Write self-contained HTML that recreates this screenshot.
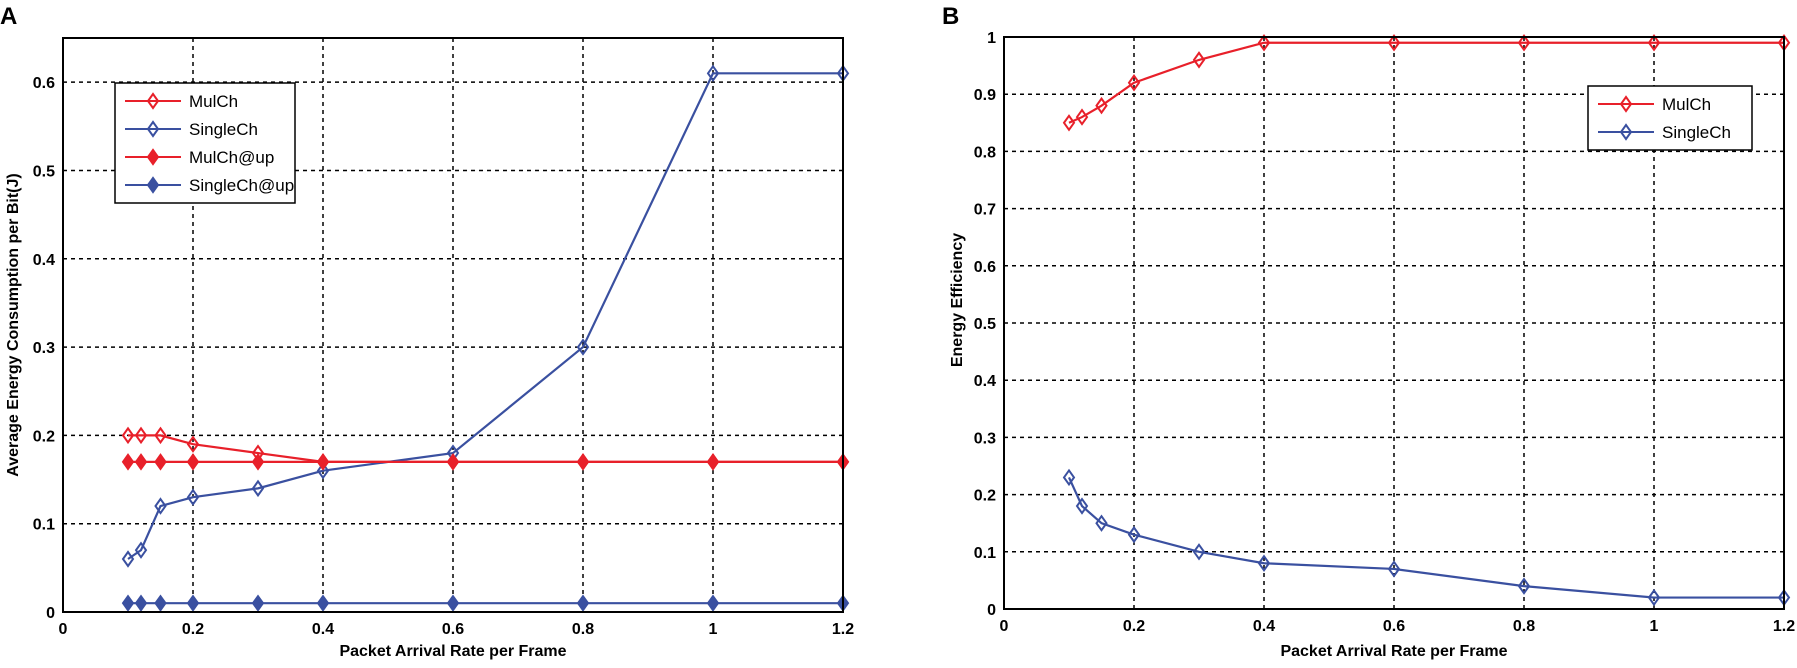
<!DOCTYPE html>
<html><head><meta charset="utf-8"><style>
body{margin:0;background:#fff;width:1797px;height:663px;overflow:hidden}
svg{font-family:"Liberation Sans",Arial,sans-serif}
</style></head><body>
<svg id="s" width="1797" height="663" xmlns="http://www.w3.org/2000/svg"></svg>
<script>
const s=document.getElementById('s');let h='';
const R='#e8202a',B='#3a50a0';
const X=[0.1,0.12,0.15,0.2,0.3,0.4,0.6,0.8,1,1.2];
function dia(x,y,c,f){return `<path d="M${x} ${y-7}L${x+5} ${y}L${x} ${y+7}L${x-5} ${y}Z" fill="${f?c:'#fff'}" fill-opacity="${f?1:0}" stroke="${c}" stroke-width="2"/>`;}
function plot(o){
 const {x0,x1,y0,yt,ymax,yticks,ys}=o;
 const px=v=>x0+(x1-x0)*v/1.2, py=v=>y0-(y0-yt)*v/ymax;
 for(let i=1;i<6;i++){const x=px(i*0.2);h+=`<line x1="${x}" y1="${yt}" x2="${x}" y2="${y0}" stroke="#000" stroke-dasharray="4,4" stroke-width="1.5"/>`;}
 yticks.forEach(t=>{const y=py(t);if(t>0&&y>yt+2)h+=`<line x1="${x0}" y1="${y}" x2="${x1}" y2="${y}" stroke="#000" stroke-dasharray="4,4" stroke-width="1.5"/>`;
  h+=`<text x="${x0-8}" y="${y+6}" text-anchor="end" font-size="16" font-weight="bold">${t}</text>`;});
 for(let i=0;i<=6;i++){const v=+(i*0.2).toFixed(1);h+=`<text x="${px(v)}" y="${y0+22}" text-anchor="middle" font-size="16" font-weight="bold">${v}</text>`;}
 ys.forEach(([d,c,f])=>{h+=`<polyline fill="none" stroke="${c}" stroke-width="2.2" points="${X.map((x,i)=>px(x)+','+py(d[i])).join(' ')}"/>`;
  X.forEach((x,i)=>{h+=dia(px(x),py(d[i]),c,f);});});
 h+=`<rect x="${x0}" y="${yt}" width="${x1-x0}" height="${y0-yt}" fill="none" stroke="#000" stroke-width="2"/>`;
}
plot({x0:63,x1:843,y0:612,yt:38,ymax:0.65,yticks:[0,0.1,0.2,0.3,0.4,0.5,0.6],ys:[
 [[0.2,0.2,0.2,0.19,0.18,0.17,0.17,0.17,0.17,0.17],R,0],
 [[0.06,0.07,0.12,0.13,0.14,0.16,0.18,0.3,0.61,0.61],B,0],
 [Array(10).fill(0.17),R,1],[Array(10).fill(0.01),B,1]]});
plot({x0:1004,x1:1784,y0:609,yt:37,ymax:1,yticks:[0,0.1,0.2,0.3,0.4,0.5,0.6,0.7,0.8,0.9,1],ys:[
 [[0.85,0.86,0.88,0.92,0.96,0.99,0.99,0.99,0.99,0.99],R,0],
 [[0.23,0.18,0.15,0.13,0.10,0.08,0.07,0.04,0.02,0.02],B,0]]});
function legend(x,y,w,items){h+=`<rect x="${x}" y="${y}" width="${w}" height="${items.length*28+8}" fill="#fff" stroke="#000" stroke-width="1.5"/>`;
 items.forEach(([t,c,f],i)=>{const yy=y+18+i*28;h+=`<line x1="${x+10}" y1="${yy}" x2="${x+66}" y2="${yy}" stroke="${c}" stroke-width="2"/>`+dia(x+38,yy,c,f)+`<text x="${x+74}" y="${yy+6}" font-size="17">${t}</text>`;});}
legend(115,83,180,[['MulCh',R,0],['SingleCh',B,0],['MulCh@up',R,1],['SingleCh@up',B,1]]);
legend(1588,86,164,[['MulCh',R,0],['SingleCh',B,0]]);
h+=`<text x="0" y="24" font-size="24" font-weight="bold">A</text><text x="942" y="24" font-size="24" font-weight="bold">B</text>`;
h+=`<text x="453" y="656" text-anchor="middle" font-size="16" font-weight="bold">Packet Arrival Rate per Frame</text>`;
h+=`<text x="1394" y="656" text-anchor="middle" font-size="16" font-weight="bold">Packet Arrival Rate per Frame</text>`;
h+=`<text transform="translate(18,325) rotate(-90)" text-anchor="middle" font-size="16" font-weight="bold">Average Energy Consumption per Bit(J)</text>`;
h+=`<text transform="translate(962,300) rotate(-90)" text-anchor="middle" font-size="16" font-weight="bold">Energy Efficiency</text>`;
s.innerHTML=h;
</script>
</body></html>
